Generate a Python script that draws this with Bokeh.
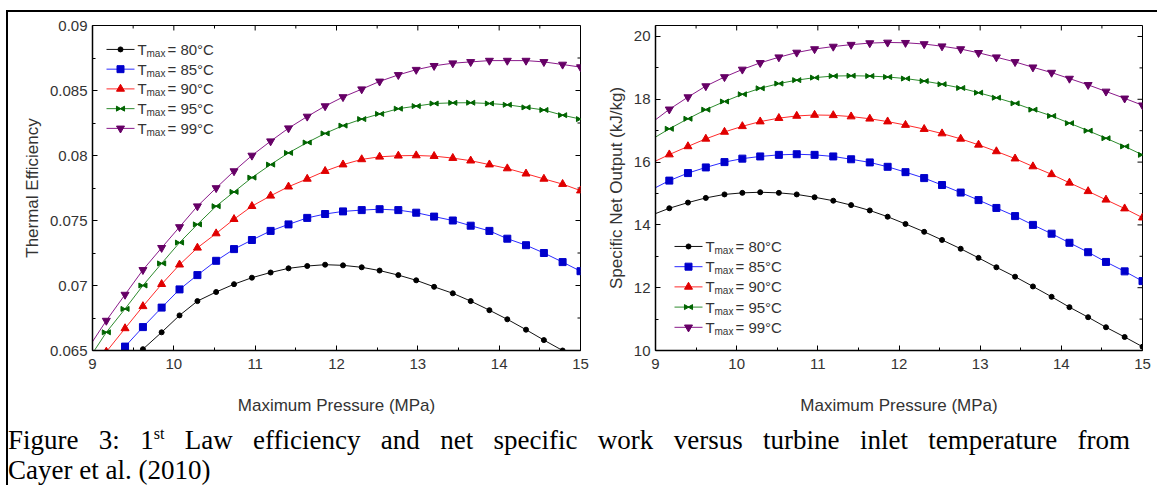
from bokeh.plotting import figure
from bokeh.models import Range1d, FixedTicker, Div
from bokeh.layouts import row, column
from bokeh.embed import file_html
from bokeh.resources import INLINE
from bokeh.core.properties import value

# ---------------------------------------------------------------- data
pressure = [8.95, 9.17, 9.40, 9.62, 9.85, 10.07, 10.29, 10.52, 10.74, 10.96,
            11.19, 11.41, 11.64, 11.86, 12.08, 12.31, 12.53, 12.76, 12.98, 13.20,
            13.43, 13.65, 13.88, 14.10, 14.33, 14.55, 14.78, 15.00]

# thermal efficiency for each maximum cycle temperature
eff_80 = [0.0606, 0.0622, 0.0637, 0.0651, 0.0664, 0.0677, 0.0688, 0.0695, 0.0701, 0.0706,
          0.0710, 0.07132, 0.0715, 0.0716, 0.07155, 0.0714, 0.07115, 0.0708, 0.0704, 0.0699,
          0.0694, 0.0688, 0.0681, 0.0674, 0.0666, 0.0658, 0.0650, 0.0641]
eff_85 = [0.0620, 0.0637, 0.0653, 0.0668, 0.0683, 0.0697, 0.0708, 0.0719, 0.0728, 0.0735,
          0.0742, 0.0747, 0.0752, 0.0755, 0.0757, 0.0758, 0.07587, 0.0758, 0.0756, 0.0753,
          0.0750, 0.0746, 0.0742, 0.0736, 0.0731, 0.0725, 0.0718, 0.0711]
eff_90 = [0.0628, 0.0649, 0.0667, 0.0684, 0.0701, 0.0716, 0.0729, 0.0740, 0.0751, 0.0761,
          0.0769, 0.0776, 0.0782, 0.0788, 0.0793, 0.0797, 0.0799, 0.07998, 0.0800, 0.07995,
          0.0798, 0.0796, 0.0793, 0.0790, 0.0786, 0.0782, 0.0778, 0.0773]
eff_95 = [0.0643, 0.0664, 0.0682, 0.0700, 0.0717, 0.0733, 0.0747, 0.0761, 0.0772, 0.0783,
          0.0793, 0.0802, 0.0810, 0.0817, 0.0823, 0.0828, 0.0832, 0.0836, 0.0838, 0.0840,
          0.08405, 0.08406, 0.0840, 0.0839, 0.0837, 0.0835, 0.0831, 0.0828]
eff_99 = [0.0652, 0.0673, 0.0693, 0.0712, 0.0729, 0.0745, 0.0761, 0.0775, 0.0788, 0.0800,
          0.0811, 0.0821, 0.0830, 0.0838, 0.0845, 0.0851, 0.0857, 0.0862, 0.0866, 0.0869,
          0.0871, 0.0872, 0.0873, 0.0873, 0.0873, 0.0872, 0.0870, 0.0868]

# specific net output (kJ/kg) for each maximum cycle temperature
work_80 = [14.31, 14.53, 14.71, 14.86, 14.97, 15.02, 15.04, 15.02, 14.97, 14.88,
           14.77, 14.63, 14.46, 14.26, 14.03, 13.78, 13.52, 13.24, 12.95, 12.65,
           12.35, 12.04, 11.71, 11.38, 11.06, 10.74, 10.43, 10.12]
work_85 = [15.12, 15.41, 15.65, 15.83, 16.00, 16.11, 16.18, 16.23, 16.25, 16.23,
           16.18, 16.09, 15.99, 15.85, 15.68, 15.49, 15.27, 15.03, 14.79, 14.54,
           14.28, 14.00, 13.72, 13.43, 13.13, 12.82, 12.52, 12.21]
work_90 = [15.97, 16.24, 16.50, 16.74, 16.96, 17.14, 17.29, 17.40, 17.47, 17.50,
           17.49, 17.45, 17.38, 17.29, 17.18, 17.05, 16.91, 16.74, 16.55, 16.34,
           16.11, 15.86, 15.61, 15.34, 15.07, 14.80, 14.52, 14.23]
work_95 = [16.72, 17.06, 17.38, 17.67, 17.93, 18.16, 18.35, 18.50, 18.61, 18.69,
           18.74, 18.75, 18.74, 18.71, 18.66, 18.58, 18.48, 18.36, 18.21, 18.05,
           17.87, 17.67, 17.47, 17.24, 17.00, 16.76, 16.50, 16.23]
work_99 = [17.25, 17.68, 18.07, 18.42, 18.71, 18.95, 19.16, 19.34, 19.49, 19.60,
           19.68, 19.74, 19.79, 19.81, 19.80, 19.76, 19.69, 19.60, 19.48, 19.34,
           19.19, 19.02, 18.85, 18.66, 18.46, 18.25, 18.03, 17.81]

temps = ["80", "85", "90", "95", "99"]

x_ticks = [9, 10, 11, 12, 13, 14, 15]
x_minor = [9.5, 10.5, 11.5, 12.5, 13.5, 14.5]
x_tick_labels = ["9", "10", "11", "12", "13", "14", "15"]
eff_ticks = [0.065, 0.07, 0.075, 0.08, 0.085, 0.09]
eff_minor = [0.0675, 0.0725, 0.0775, 0.0825, 0.0875]
eff_tick_labels = ["0.065", "0.07", "0.075", "0.08", "0.085", "0.09"]
work_ticks = [10, 12, 14, 16, 18, 20]
work_minor = [11, 13, 15, 17, 19]
work_tick_labels = ["10", "12", "14", "16", "18", "20"]

# ---------------------------------------------------------------- styling
SANS = "Liberation Sans"
TEXT = "#333333"

series_style = [
    dict(line="#111111", fill="#000000", marker="circle", size=5),
    dict(line="#2b2bff", fill="#0000cc", marker="square", size=7),
    dict(line="#ff2a2a", fill="#e00000", marker="triangle", size=8),
    dict(line="#2e8b2e", fill="#006400", marker="bowtie", size=5),
    dict(line="#8a1a8a", fill="#660066", marker="inverted_triangle", size=8),
]


def draw_marker(p, xs, ys, st, px_per_x):
    if st["marker"] == "bowtie":
        # two triangles meeting tip to tip at the point
        d = 2.6 / px_per_x
        p.scatter([x - d for x in xs], ys, marker="triangle", size=st["size"],
                  angle=-1.5708, fill_color=st["fill"], line_color=st["fill"])
        p.scatter([x + d for x in xs], ys, marker="triangle", size=st["size"],
                  angle=1.5708, fill_color=st["fill"], line_color=st["fill"])
    else:
        p.scatter(xs, ys, marker=st["marker"], size=st["size"],
                  fill_color=st["fill"], line_color=st["fill"])


def style_axis(ax, ticks, labels, minor):
    ax.ticker = FixedTicker(ticks=ticks, minor_ticks=minor)
    ax.major_label_overrides = {t: s for t, s in zip(ticks, labels)}
    ax.axis_line_color = "black"
    ax.axis_line_width = 1.5
    ax.major_tick_in = 5
    ax.major_tick_out = 0
    ax.minor_tick_in = 3
    ax.minor_tick_out = 0
    ax.major_tick_line_color = "black"
    ax.minor_tick_line_color = "black"
    ax.major_label_text_font = SANS
    ax.major_label_text_color = TEXT
    ax.major_label_text_font_size = "15px"
    ax.axis_label_text_font = SANS
    ax.axis_label_text_font_style = "normal"
    ax.axis_label_text_font_size = "17px"
    ax.axis_label_text_color = TEXT


def build_panel(width, height, borders, yr, y_ticks, y_labels, y_minor, y_title,
                series, legend_origin, legend_step):
    left, right, top, bottom = borders
    p = figure(width=width, height=height, x_range=Range1d(9, 15), y_range=Range1d(*yr),
               min_border_left=left, min_border_right=right,
               min_border_top=top, min_border_bottom=bottom,
               toolbar_location=None, output_backend="svg")
    p.grid.visible = False
    p.background_fill_color = "white"
    p.border_fill_color = "white"
    p.outline_line_color = "black"
    p.outline_line_width = 1

    style_axis(p.xaxis[0], x_ticks, x_tick_labels, x_minor)
    p.xaxis[0].axis_label = "Maximum Pressure (MPa)"
    p.xaxis[0].major_label_standoff = 8
    p.xaxis[0].axis_label_standoff = 24
    style_axis(p.yaxis[0], y_ticks, y_labels, y_minor)
    p.yaxis[0].axis_label = y_title
    p.yaxis[0].major_label_standoff = 5

    fw = width - left - right
    fh = height - top - bottom
    px_per_x = fw / 6.0
    px_per_y = fh / (yr[1] - yr[0])

    # inward ticks mirrored on the top and right edges of the frame
    for ticks, ln in ((x_ticks, 5), (x_minor, 3)):
        p.segment(x0=ticks, y0=[yr[1]] * len(ticks), x1=ticks,
                  y1=[yr[1] - ln / px_per_y] * len(ticks), line_color="black", line_width=1)
    for ticks, ln in ((y_ticks, 5), (y_minor, 3)):
        p.segment(x0=[15] * len(ticks), y0=ticks, x1=[15 - ln / px_per_x] * len(ticks),
                  y1=ticks, line_color="black", line_width=1)

    for ys, st in zip(series, series_style):
        p.line(pressure, ys, line_color=st["line"], line_width=1)
        draw_marker(p, pressure, ys, st, px_per_x)

    # legend: line sample + marker + "T_max = xx°C", placed in frame pixels
    def dx(px):
        return 9 + px / px_per_x

    def dy(py):
        return yr[1] - py / px_per_y

    lx0, ly0 = legend_origin
    for i, (t, st) in enumerate(zip(temps, series_style)):
        yy = dy(ly0 + i * legend_step)
        p.line([dx(lx0), dx(lx0 + 28)], [yy, yy], line_color=st["line"], line_width=1)
        draw_marker(p, [dx(lx0 + 14)], [yy], st, px_per_x)
        tx = dx(lx0 + 31)
        p.text([tx], [yy], text=["T"], text_font=value(SANS), text_font_size="15px",
               text_color=TEXT, text_baseline="middle", text_align="left")
        p.text([tx], [yy], text=["max"], text_font=value(SANS), text_font_size="10px",
               text_color=TEXT, text_baseline="middle", text_align="left",
               x_offset=9, y_offset=4)
        p.text([tx], [yy], text=["= " + t + "°C"], text_font=value(SANS),
               text_font_size="15px", text_color=TEXT, text_baseline="middle",
               text_align="left", x_offset=30)
    return p


p_eff = build_panel(585, 412, (84, 13, 12, 74), (0.065, 0.09),
                    eff_ticks, eff_tick_labels, eff_minor,
                    "Thermal Efficiency",
                    [eff_80, eff_85, eff_90, eff_95, eff_99],
                    (14, 24), 19.8)

p_work = build_panel(564, 412, (62, 15, 13, 71), (10, 20.35),
                     work_ticks, work_tick_labels, work_minor,
                     "Specific Net Output (kJ/kg)",
                     [work_80, work_85, work_90, work_95, work_99],
                     (19, 223), 20.4)

caption = Div(
    text=("<div style=\"font-family:'Liberation Serif',serif;font-size:27px;"
          "line-height:30px;color:#000;padding-top:1px;\">"
          "<div style=\"width:1122px;text-align:justify;text-align-last:justify;"
          "white-space:nowrap;\">"
          "Figure 3: 1<sup style=\"font-size:16px;line-height:0\">st</sup> Law efficiency "
          "and net specific work versus turbine inlet temperature from</div>"
          "<div style=\"white-space:nowrap;\">Cayer et al. (2010)</div></div>"),
    width=1149, height=61, margin=0)

page = column(row(p_eff, p_work, margin=0), caption, margin=(10, 0, 0, 6),
              styles={"border-top": "2px solid #000", "border-left": "2px solid #000"})

open("out.html", "w").write(file_html(page, INLINE))
